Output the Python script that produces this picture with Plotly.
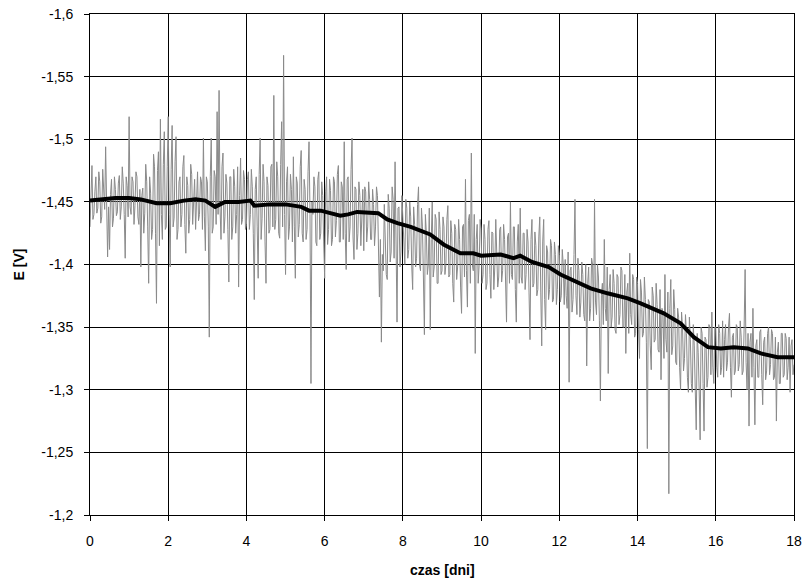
import numpy as np
import plotly.graph_objects as go

# Potential measured every 0.025 day [V]
KROK_DNI = 0.025
E_pomiar = [
    # day 0
    -1.430, -1.462, -1.479, -1.436, -1.440, -1.458, -1.470, -1.441, -1.445, -1.474,
    -1.466, -1.433, -1.438, -1.476, -1.462, -1.444, -1.494, -1.452, -1.406, -1.446,
    -1.412, -1.456, -1.468, -1.430, -1.437, -1.470, -1.460, -1.439, -1.442, -1.465,
    -1.471, -1.436, -1.446, -1.478, -1.465, -1.440, -1.405, -1.470, -1.463, -1.438,
    # day 1
    -1.518, -1.446, -1.440, -1.470, -1.466, -1.432, -1.447, -1.474, -1.470, -1.438,
    -1.432, -1.460, -1.398, -1.455, -1.461, -1.425, -1.441, -1.480, -1.466, -1.430,
    -1.385, -1.470, -1.457, -1.420, -1.428, -1.488, -1.478, -1.425, -1.369, -1.475,
    -1.490, -1.415, -1.516, -1.440, -1.420, -1.480, -1.506, -1.428, -1.430, -1.478,
    # day 2
    -1.518, -1.440, -1.398, -1.476, -1.511, -1.430, -1.437, -1.482, -1.502, -1.420,
    -1.428, -1.466, -1.470, -1.430, -1.440, -1.478, -1.487, -1.432, -1.409, -1.470,
    -1.463, -1.425, -1.436, -1.480, -1.472, -1.432, -1.445, -1.468, -1.428, -1.462,
    -1.474, -1.435, -1.440, -1.470, -1.466, -1.428, -1.501, -1.438, -1.411, -1.470,
    # day 3
    -1.466, -1.430, -1.342, -1.470, -1.501, -1.425, -1.430, -1.475, -1.470, -1.432,
    -1.522, -1.440, -1.539, -1.445, -1.420, -1.478, -1.489, -1.425, -1.438, -1.472,
    -1.465, -1.428, -1.386, -1.470, -1.470, -1.420, -1.430, -1.476, -1.462, -1.425,
    -1.440, -1.478, -1.382, -1.455, -1.485, -1.432, -1.436, -1.475, -1.468, -1.428,
    # day 4
    -1.432, -1.468, -1.474, -1.428, -1.440, -1.476, -1.462, -1.425, -1.372, -1.460,
    -1.470, -1.430, -1.389, -1.472, -1.501, -1.420, -1.437, -1.480, -1.466, -1.418,
    -1.385, -1.470, -1.463, -1.425, -1.428, -1.478, -1.480, -1.430, -1.535, -1.428,
    -1.436, -1.482, -1.470, -1.425, -1.421, -1.480, -1.514, -1.430, -1.567, -1.440,
    # day 5
    -1.392, -1.466, -1.478, -1.420, -1.430, -1.472, -1.460, -1.418, -1.486, -1.430,
    -1.389, -1.470, -1.465, -1.422, -1.432, -1.478, -1.491, -1.425, -1.418, -1.468,
    -1.460, -1.420, -1.428, -1.474, -1.498, -1.440, -1.305, -1.450, -1.440, -1.470,
    -1.462, -1.418, -1.415, -1.468, -1.474, -1.420, -1.425, -1.466, -1.455, -1.418,
    # day 6
    -1.389, -1.458, -1.470, -1.416, -1.428, -1.468, -1.459, -1.415, -1.420, -1.470,
    -1.466, -1.422, -1.435, -1.472, -1.479, -1.418, -1.418, -1.466, -1.462, -1.420,
    -1.498, -1.425, -1.396, -1.468, -1.470, -1.418, -1.430, -1.476, -1.501, -1.422,
    -1.404, -1.462, -1.460, -1.412, -1.425, -1.466, -1.455, -1.415, -1.432, -1.460,
    # day 7
    -1.411, -1.462, -1.458, -1.418, -1.430, -1.466, -1.452, -1.420, -1.420, -1.460,
    -1.448, -1.415, -1.430, -1.462, -1.455, -1.398, -1.374, -1.420, -1.338, -1.408,
    -1.395, -1.448, -1.420, -1.392, -1.388, -1.456, -1.445, -1.402, -1.410, -1.462,
    -1.452, -1.405, -1.482, -1.420, -1.354, -1.445, -1.446, -1.398, -1.410, -1.455,
    # day 8
    -1.440, -1.415, -1.400, -1.452, -1.445, -1.405, -1.412, -1.450, -1.438, -1.400,
    -1.380, -1.446, -1.432, -1.398, -1.405, -1.448, -1.462, -1.400, -1.395, -1.445,
    -1.430, -1.390, -1.344, -1.440, -1.425, -1.392, -1.400, -1.445, -1.348, -1.420,
    -1.450, -1.390, -1.398, -1.440, -1.436, -1.385, -1.385, -1.442, -1.428, -1.392,
    # day 9
    -1.395, -1.438, -1.430, -1.392, -1.400, -1.436, -1.447, -1.390, -1.392, -1.435,
    -1.425, -1.385, -1.370, -1.432, -1.428, -1.388, -1.398, -1.436, -1.420, -1.382,
    -1.361, -1.430, -1.432, -1.390, -1.468, -1.395, -1.366, -1.435, -1.440, -1.385,
    -1.489, -1.400, -1.395, -1.440, -1.329, -1.420, -1.432, -1.385, -1.400, -1.436,
    # day 10
    -1.428, -1.385, -1.392, -1.432, -1.420, -1.380, -1.385, -1.428, -1.435, -1.392,
    -1.373, -1.426, -1.425, -1.380, -1.398, -1.436, -1.415, -1.382, -1.390, -1.428,
    -1.430, -1.386, -1.395, -1.432, -1.420, -1.380, -1.354, -1.422, -1.425, -1.385,
    -1.450, -1.392, -1.388, -1.430, -1.430, -1.380, -1.354, -1.418, -1.432, -1.385,
    # day 11
    -1.445, -1.390, -1.385, -1.425, -1.425, -1.380, -1.392, -1.428, -1.418, -1.378,
    -1.340, -1.420, -1.436, -1.382, -1.385, -1.426, -1.415, -1.375, -1.380, -1.422,
    -1.438, -1.378, -1.335, -1.418, -1.436, -1.372, -1.348, -1.415, -1.410, -1.372,
    -1.380, -1.420, -1.415, -1.370, -1.372, -1.418, -1.408, -1.368, -1.380, -1.415,
    # day 12
    -1.408, -1.370, -1.375, -1.412, -1.400, -1.368, -1.404, -1.375, -1.365, -1.410,
    -1.306, -1.395, -1.398, -1.362, -1.372, -1.408, -1.452, -1.375, -1.360, -1.405,
    -1.395, -1.358, -1.370, -1.402, -1.392, -1.360, -1.355, -1.400, -1.319, -1.385,
    -1.398, -1.355, -1.365, -1.405, -1.400, -1.355, -1.452, -1.370, -1.360, -1.400,
    # day 13
    -1.390, -1.355, -1.291, -1.375, -1.385, -1.352, -1.420, -1.365, -1.355, -1.398,
    -1.313, -1.380, -1.392, -1.350, -1.358, -1.396, -1.385, -1.348, -1.345, -1.392,
    -1.390, -1.352, -1.360, -1.398, -1.395, -1.350, -1.350, -1.392, -1.329, -1.378,
    -1.385, -1.345, -1.409, -1.360, -1.352, -1.392, -1.388, -1.342, -1.345, -1.390,
    # day 14
    -1.385, -1.348, -1.325, -1.388, -1.378, -1.342, -1.345, -1.390, -1.372, -1.338,
    -1.253, -1.372, -1.370, -1.335, -1.316, -1.382, -1.375, -1.338, -1.340, -1.385,
    -1.368, -1.332, -1.330, -1.380, -1.308, -1.365, -1.360, -1.325, -1.392, -1.340,
    -1.330, -1.378, -1.217, -1.365, -1.388, -1.328, -1.335, -1.380, -1.364, -1.322,
    # day 15
    -1.320, -1.365, -1.358, -1.318, -1.300, -1.362, -1.350, -1.315, -1.325, -1.360,
    -1.345, -1.310, -1.298, -1.358, -1.340, -1.305, -1.298, -1.352, -1.335, -1.300,
    -1.268, -1.345, -1.330, -1.300, -1.260, -1.350, -1.345, -1.305, -1.267, -1.342,
    -1.340, -1.302, -1.310, -1.352, -1.350, -1.312, -1.362, -1.318, -1.305, -1.350,
    # day 16
    -1.350, -1.318, -1.310, -1.352, -1.345, -1.312, -1.318, -1.355, -1.310, -1.340,
    -1.352, -1.315, -1.322, -1.350, -1.361, -1.318, -1.294, -1.342, -1.345, -1.312,
    -1.315, -1.352, -1.350, -1.315, -1.320, -1.355, -1.342, -1.312, -1.315, -1.350,
    -1.396, -1.322, -1.300, -1.345, -1.271, -1.338, -1.345, -1.310, -1.365, -1.318,
    # day 17
    -1.272, -1.335, -1.340, -1.310, -1.310, -1.346, -1.348, -1.312, -1.288, -1.338,
    -1.342, -1.308, -1.315, -1.345, -1.350, -1.312, -1.320, -1.348, -1.345, -1.308,
    -1.310, -1.342, -1.275, -1.330, -1.338, -1.305, -1.305, -1.345, -1.345, -1.310,
    -1.312, -1.345, -1.341, -1.308, -1.318, -1.342, -1.298, -1.335, -1.340, -1.312,
    # day 18
    -1.320,
]

# Smoothed trend (moving average)
czas_trend = [
    0.0, 0.3, 0.65, 1.0, 1.3, 1.7, 2.05, 2.4, 2.7, 2.95, 3.2, 3.45, 3.8, 4.1, 4.2,
    4.6, 5.0, 5.4, 5.6, 5.9, 6.4, 6.6, 6.83, 7.37, 7.6, 7.86, 8.2, 8.7, 9.04, 9.47,
    9.8, 10.0, 10.5, 10.83, 11.0, 11.3, 11.73, 12.03, 12.37, 12.8, 13.23, 13.75,
    14.08, 14.67, 15.1, 15.44, 15.8, 16.13, 16.46, 16.82, 17.15, 17.58, 18.0,
]
E_trend = [
    -1.451, -1.452, -1.453, -1.453, -1.452, -1.449, -1.449, -1.451, -1.452, -1.451,
    -1.446, -1.450, -1.450, -1.451, -1.447, -1.448, -1.448, -1.446, -1.443, -1.443,
    -1.439, -1.440, -1.442, -1.441, -1.436, -1.433, -1.430, -1.424, -1.416, -1.409,
    -1.409, -1.407, -1.408, -1.405, -1.407, -1.402, -1.398, -1.392, -1.387, -1.381,
    -1.377, -1.373, -1.369, -1.361, -1.353, -1.342, -1.334, -1.333, -1.334, -1.333,
    -1.329, -1.326, -1.326,
]

y_ticks = [-1.6, -1.55, -1.5, -1.45, -1.4, -1.35, -1.3, -1.25, -1.2]
y_labels = ["-1,6", "-1,55", "-1,5", "-1,45", "-1,4", "-1,35", "-1,3", "-1,25", "-1,2"]
x_ticks = [0, 2, 4, 6, 8, 10, 12, 14, 16, 18]

czas = np.round(np.arange(len(E_pomiar)) * KROK_DNI, 3)

FONT = "Liberation Sans, Arial, sans-serif"

fig = go.Figure()
fig.add_trace(go.Scatter(
    x=czas, y=E_pomiar, mode="lines",
    line=dict(color="#8a8a8a", width=1),
    showlegend=False, hoverinfo="skip",
))
fig.add_trace(go.Scatter(
    x=czas_trend, y=E_trend, mode="lines",
    line=dict(color="#000000", width=4),
    showlegend=False,
))

axis_common = dict(
    showgrid=True, gridcolor="#000000", gridwidth=1,
    showline=True, linecolor="#000000", linewidth=1, mirror=True,
    ticks="outside", ticklen=5, tickcolor="#000000",
    zeroline=False, automargin=False,
    tickfont=dict(family=FONT, size=14, color="black"),
)

fig.update_layout(
    width=808, height=581,
    margin=dict(l=90, r=14, t=14, b=66),
    paper_bgcolor="white", plot_bgcolor="white",
    font=dict(family=FONT, size=14, color="black"),
    annotations=[
        dict(text="<b>E [V]</b>", xref="paper", yref="paper", x=0, y=0.5,
             xshift=-72, textangle=-90, showarrow=False,
             xanchor="center", yanchor="middle", font=dict(family=FONT, size=14)),
        dict(text="<b>czas [dni]</b>", xref="paper", yref="paper", x=0.5, y=0,
             yshift=-55, showarrow=False,
             xanchor="center", yanchor="middle", font=dict(family=FONT, size=14)),
    ],
)
fig.update_xaxes(range=[0, 18], tickvals=x_ticks, ticktext=[str(v) for v in x_ticks],
                 ticklabelstandoff=8, **axis_common)
fig.update_yaxes(range=[-1.2, -1.6], tickvals=y_ticks, ticktext=y_labels,
                 ticklabelstandoff=8, **axis_common)

fig.write_html("out.html")
